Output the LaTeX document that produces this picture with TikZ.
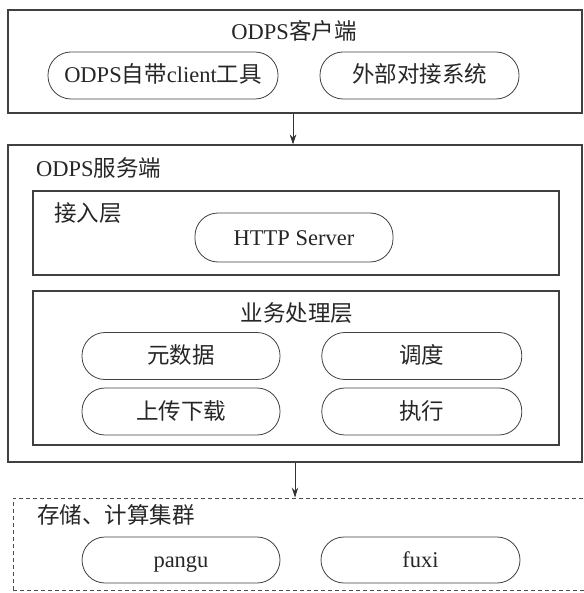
\documentclass[tikz,border=0pt]{standalone}
\usepackage{fontspec}
\setmainfont{Liberation Serif}
\newfontfamily\cjk{Noto Sans CJK SC}
\usepackage{tikz}
\usetikzlibrary{arrows.meta, positioning}

\begin{document}
\begin{tikzpicture}[
    % 1 unit = 1 pixel of the reference
    x=1pt, y=-1pt,
    every node/.style={font=\fontsize{22.5}{24}\selectfont, text=black!85},
    layer/.style={rectangle, draw=black!75, line width=1.1pt, inner sep=0pt},
    cluster/.style={rectangle, draw=black!70, line width=0.9pt, dash pattern=on 4pt off 3pt, inner sep=0pt},
    pill/.style={rectangle, draw=black!75, line width=0.8pt, rounded corners=23pt, minimum width=198pt, minimum height=47pt, text height=18pt, text depth=3pt, align=center},
    title text/.style={inner sep=0pt},
    arrow/.style={draw=black!80, line width=0.8pt, -{Stealth[length=10pt, width=6.5pt]}}
]
    \useasboundingbox (0,0) rectangle (583,593);

    % --- khung ngoai ---
    \node[layer, minimum width=574pt, minimum height=103pt] (client) at (295,61.5) {};
    \node[layer, minimum width=574pt, minimum height=317pt] (server) at (295,303.5) {};
    \node[layer, minimum width=526pt, minimum height=84pt] (access) at (296,233) {};
    \node[layer, minimum width=526pt, minimum height=154pt] (business) at (296,368) {};
    \node[cluster, minimum width=582pt, minimum height=92pt] (storage) at (304,544) {};

    % --- tieu de ---
    \node[title text] (clientTitle) at (294,31) {ODPS{\cjk 客户端}};
    \node[title text, anchor=west] (serverTitle) at (36,168) {ODPS{\cjk 服务端}};
    \node[title text, anchor=west] (accessTitle) at (54,213) {\cjk 接入层};
    \node[title text] (businessTitle) at (297,313) {\cjk 业务处理层};
    \node[title text, anchor=west] (storageTitle) at (37,515) {\cjk 存储、计算集群};

    % --- cac khoi ---
    \node[pill, minimum width=230pt] (tool) at (163,75.5) {ODPS{\cjk 自带}client{\cjk 工具}};
    \node[pill, minimum width=199pt] (external) at (419.5,75.5) {\cjk 外部对接系统};
    \node[pill, minimum height=49pt] (http) at (294,237.5) {HTTP Server};
    \node[pill] (meta) at (181,356) {\cjk 元数据};
    \node[pill, right=41pt of meta, minimum width=200pt] (sched) {\cjk 调度};
    \node[pill] (updown) at (181,411.5) {\cjk 上传下载};
    \node[pill, right=41pt of updown, minimum width=200pt] (exec) {\cjk 执行};
    \node[pill, minimum height=46pt] (pangu) at (181,560) {pangu};
    \node[pill, minimum height=46pt, minimum width=199pt] (fuxi) at (420.5,560) {fuxi};

    % --- mui ten ---
    \draw[arrow] ([xshift=-2pt]client.south) -- ([xshift=-2pt]client.south |- server.north);
    \draw[arrow] (server.south) -- (server.south |- storage.north);
\end{tikzpicture}
\end{document}
